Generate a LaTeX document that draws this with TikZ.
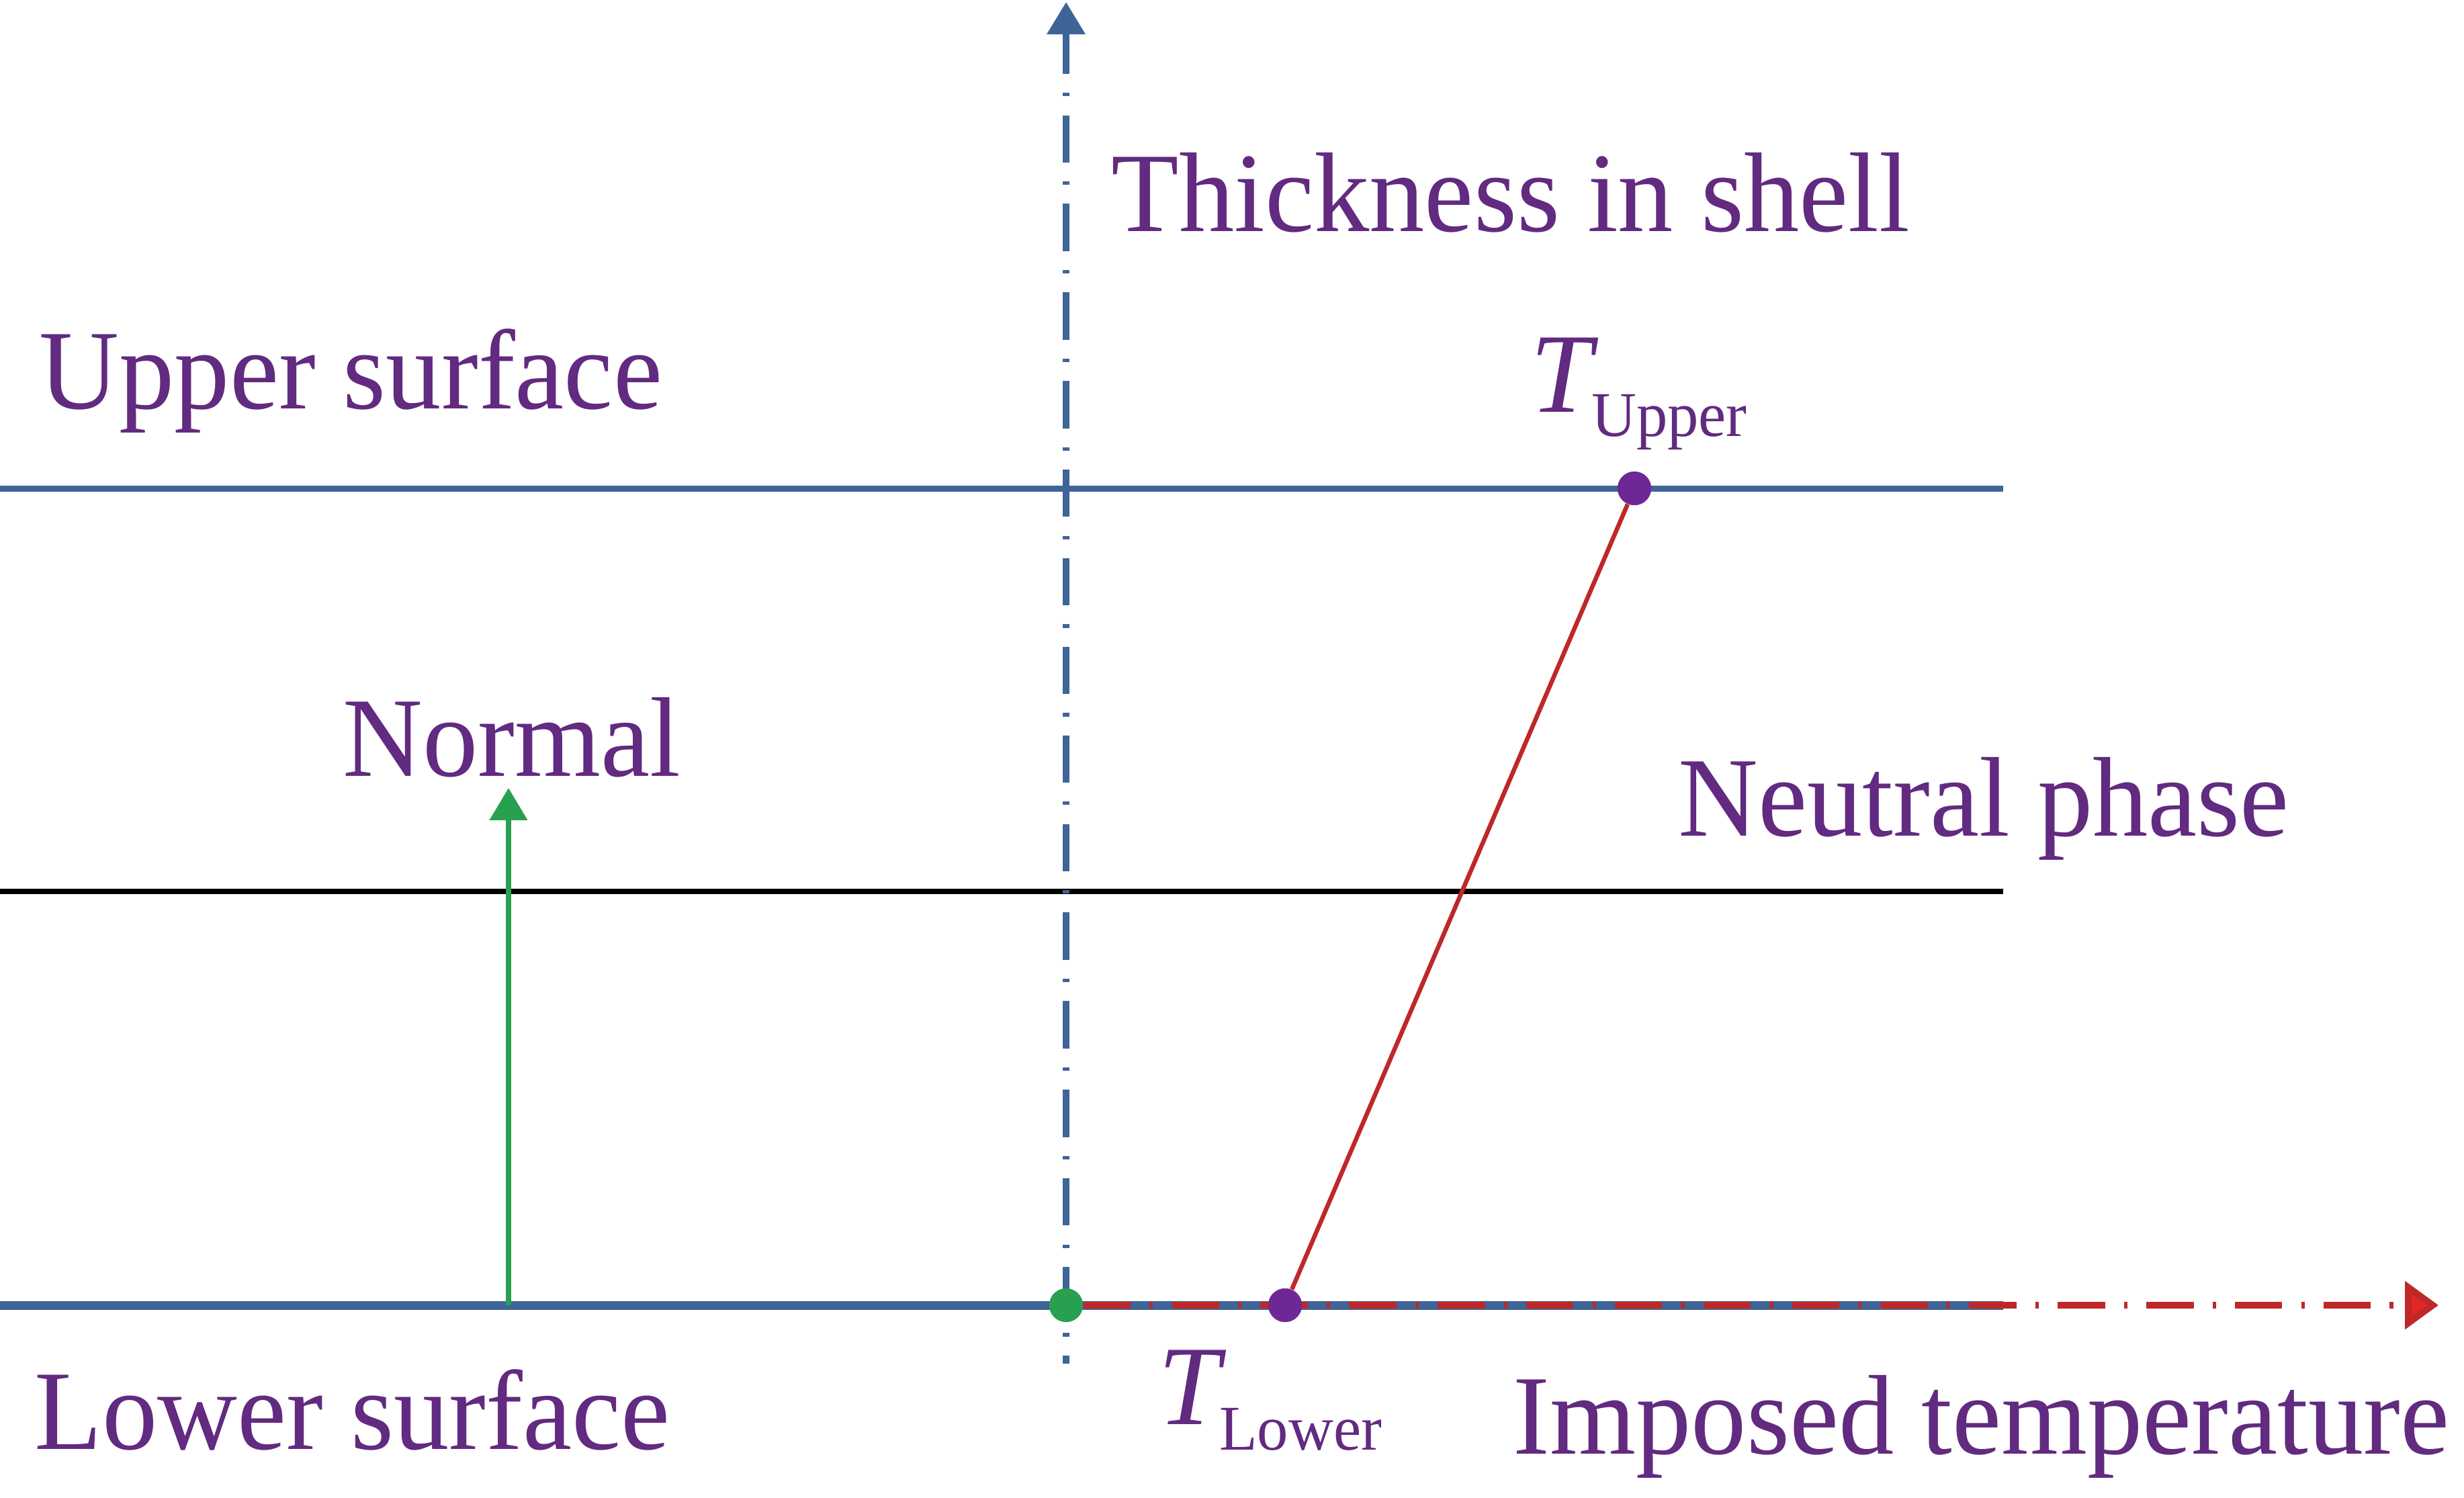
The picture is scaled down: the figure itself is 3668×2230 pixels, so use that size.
\documentclass[tikz,border=0pt]{standalone}
\usepackage{fontspec}
\setmainfont[FakeStretch=0.975]{Liberation Serif}
\usetikzlibrary{arrows.meta}
\definecolor{axisblue}{RGB}{62,100,152}
\definecolor{linered}{RGB}{190,40,40}
\definecolor{tipred}{RGB}{225,40,40}
\definecolor{txtpurple}{RGB}{98,42,128}
\definecolor{ptpurple}{RGB}{110,40,150}
\definecolor{ngreen}{RGB}{40,160,80}
\tikzset{
  lbl/.style={text=txtpurple, font=\fontsize{48}{58}\selectfont, inner sep=0pt, anchor=base west},
  surf/.style={draw=axisblue, line width=0.1cm},
  dashdot/.style={line width=0.1cm, dash pattern=on 20pt off 8pt on 1.5pt off 8pt},
  dotpt/.style={circle, inner sep=0pt, minimum size=0.5cm},
  tipA/.style={-{Triangle[width=0.55cm,length=0.48cm]}}
}
\begin{document}
\begin{tikzpicture}[x=0.01cm,y=-0.01cm]
\useasboundingbox[fill=white] (0,0) rectangle (3668,2230);
% coordinates
\coordinate (usL) at (0,727);
\coordinate (usR) at (2982,727);
\coordinate (npL) at (0,1327);
\coordinate (npR) at (2982,1327);
\coordinate (lsL) at (0,1943);
\coordinate (lsR) at (2982,1943);
\coordinate (axB) at (1587,2030);
\coordinate (axS) at (1587,110);
\coordinate (axT) at (1587,3);
\coordinate (xtT) at (3630,1943);
\coordinate (nB) at (757,1943);
\coordinate (nT) at (757,1173);
% surfaces
\draw[surf, line width=0.09cm] (usL) -- (usR);
\draw[black, line width=0.08cm] (npL) -- (npR);
\draw[surf, line width=0.13cm] (lsL) -- (lsR);
% vertical axis
\draw[axisblue, dashdot, dash phase=20pt] (axS) -- (axB);
\draw[axisblue, line width=0.1cm, tipA] (axS) -- (axT);
% points
\node[dotpt, fill=ngreen] (O) at (1587,1943) {};
\node[dotpt, fill=ptpurple] (pl) at (1913,1943) {};
\node[dotpt, fill=ptpurple] (pu) at (2433,727) {};
% horizontal temperature axis
\draw[linered, dashdot, -{Triangle[width=0.7cm,length=0.5cm,fill=tipred]}] (O.east) -- (xtT);
% temperature profile
\draw[linered, line width=0.065cm] (pl) -- (pu);
% normal
\draw[ngreen, line width=0.08cm, tipA] (nB) -- (nT);
\node[dotpt, fill=ngreen] at (O) {};
\node[dotpt, fill=ptpurple] at (pl) {};
\node[dotpt, fill=ptpurple] at (pu) {};
% labels
\node[lbl] (thk) at (1654,344) {Thickness in shell};
\node[lbl] (ups) at (58,608) {Upper surface};
\node[lbl] (nrm) at (510,1155) {Normal};
\node[lbl] (neu) at (2498,1244) {Neutral phase};
\node[lbl] (lws) at (51,2157) {Lower surface};
\node[lbl] (imp) at (2252,2164) {Imposed temperature};
\node[lbl] (tup) at (2278,613) {\textit{T}\kern-3pt\raisebox{-10.5pt}{\fontsize{27}{30}\selectfont Upper}};
\node[lbl] (tlo) at (1724,2120) {\textit{T}\kern-3pt\raisebox{-10.8pt}{\fontsize{27}{30}\selectfont Lower}};
\end{tikzpicture}
\end{document}
